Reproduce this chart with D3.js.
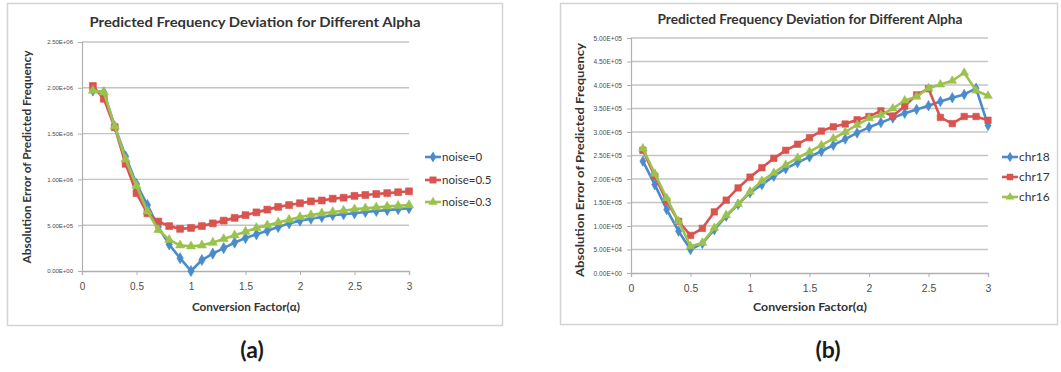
<!DOCTYPE html>
<html>
<head>
<meta charset="utf-8">
<script src="https://cdn.jsdelivr.net/npm/d3@7"></script>
<style>
  html, body { margin: 0; padding: 0; background: #fff; }
  svg { display: block; font-family: Lato, "Open Sans", sans-serif; }
</style>
</head>
<body>
<svg id="chart" width="1061" height="372"></svg>
<script>
// ---------- data ----------
const alpha = [0.1, 0.2, 0.3, 0.4, 0.5, 0.6, 0.7, 0.8, 0.9, 1.0,
               1.1, 1.2, 1.3, 1.4, 1.5, 1.6, 1.7, 1.8, 1.9, 2.0,
               2.1, 2.2, 2.3, 2.4, 2.5, 2.6, 2.7, 2.8, 2.9, 3.0];

// panel (a)
const noise0  = [1.97e6, 1.95e6, 1.58e6, 1.25e6, 0.95e6, 0.72e6, 0.48e6, 0.29e6, 0.14e6, 0.0,
                 0.12e6, 0.19e6, 0.25e6, 0.31e6, 0.36e6, 0.40e6, 0.44e6, 0.48e6, 0.52e6, 0.55e6,
                 0.57e6, 0.59e6, 0.61e6, 0.62e6, 0.63e6, 0.645e6, 0.655e6, 0.665e6, 0.675e6, 0.685e6];
const noise05 = [2.02e6, 1.88e6, 1.57e6, 1.17e6, 0.85e6, 0.63e6, 0.54e6, 0.49e6, 0.46e6, 0.47e6,
                 0.49e6, 0.52e6, 0.55e6, 0.58e6, 0.61e6, 0.64e6, 0.67e6, 0.70e6, 0.72e6, 0.74e6,
                 0.76e6, 0.77e6, 0.79e6, 0.80e6, 0.82e6, 0.83e6, 0.84e6, 0.85e6, 0.86e6, 0.87e6];
const noise03 = [1.97e6, 1.95e6, 1.58e6, 1.22e6, 0.93e6, 0.65e6, 0.45e6, 0.34e6, 0.28e6, 0.27e6,
                 0.28e6, 0.31e6, 0.35e6, 0.39e6, 0.43e6, 0.47e6, 0.50e6, 0.53e6, 0.56e6, 0.59e6,
                 0.61e6, 0.63e6, 0.645e6, 0.66e6, 0.675e6, 0.685e6, 0.695e6, 0.705e6, 0.712e6, 0.72e6];

// panel (b)
const chr18 = [2.38e5, 1.88e5, 1.35e5, 0.89e5, 0.50e5, 0.63e5, 0.92e5, 1.21e5, 1.46e5, 1.71e5,
               1.88e5, 2.06e5, 2.22e5, 2.35e5, 2.47e5, 2.59e5, 2.72e5, 2.85e5, 2.98e5, 3.10e5,
               3.20e5, 3.30e5, 3.40e5, 3.48e5, 3.56e5, 3.65e5, 3.73e5, 3.80e5, 3.93e5, 3.14e5];
const chr17 = [2.61e5, 2.06e5, 1.53e5, 1.10e5, 0.80e5, 0.95e5, 1.30e5, 1.55e5, 1.81e5, 2.04e5,
               2.24e5, 2.44e5, 2.61e5, 2.74e5, 2.88e5, 3.02e5, 3.11e5, 3.17e5, 3.26e5, 3.33e5,
               3.45e5, 3.34e5, 3.55e5, 3.79e5, 3.92e5, 3.31e5, 3.18e5, 3.33e5, 3.33e5, 3.25e5];
const chr16 = [2.65e5, 2.11e5, 1.59e5, 1.10e5, 0.57e5, 0.64e5, 0.96e5, 1.23e5, 1.47e5, 1.73e5,
               1.96e5, 2.13e5, 2.30e5, 2.45e5, 2.58e5, 2.72e5, 2.86e5, 3.00e5, 3.15e5, 3.29e5,
               3.36e5, 3.50e5, 3.67e5, 3.75e5, 3.93e5, 4.01e5, 4.09e5, 4.26e5, 3.88e5, 3.77e5];

const xTicks = [0, 0.5, 1, 1.5, 2, 2.5, 3];
const xTickLabels = ["0", "0.5", "1", "1.5", "2", "2.5", "3"];
const yTicksA = [0, 5e5, 1e6, 1.5e6, 2e6, 2.5e6];
const yTickLabelsA = ["0.00E+00", "5.00E+05", "1.00E+06", "1.50E+06", "2.00E+06", "2.50E+06"];
const yTicksB = [0, 5e4, 1e5, 1.5e5, 2e5, 2.5e5, 3e5, 3.5e5, 4e5, 4.5e5, 5e5];
const yTickLabelsB = ["0.00E+00", "5.00E+04", "1.00E+05", "1.50E+05", "2.00E+05", "2.50E+05",
                      "3.00E+05", "3.50E+05", "4.00E+05", "4.50E+05", "5.00E+05"];
const namesA = ["noise=0", "noise=0.5", "noise=0.3"];
const namesB = ["chr18", "chr17", "chr16"];

const chartTitle = "Predicted Frequency Deviation for Different Alpha";
const xTitle = "Conversion Factor(α)";
const yTitle = "Absolution Error of Predicted Frequency";

const colors = ["#4a8bcc", "#d9534f", "#9cc24e"];
const shapes = [d3.symbolDiamond, d3.symbolSquare, d3.symbolTriangle];

// ---------- drawing ----------
const svg = d3.select("#chart");
svg.append("rect").attr("width", 1061).attr("height", 372).attr("fill", "#fff");

function drawPanel(cfg) {
  const g = svg.append("g");
  g.append("rect")
    .attr("x", cfg.box[0] + 0.5).attr("y", cfg.box[1] + 0.5)
    .attr("width", cfg.box[2] - cfg.box[0]).attr("height", cfg.box[3] - cfg.box[1])
    .attr("fill", "#fff").attr("stroke", "#d4d4d4").attr("stroke-width", 1.5);

  const x = d3.scaleLinear().domain([0, 3]).range(cfg.xr);
  const y = d3.scaleLinear().domain([0, cfg.yMax]).range(cfg.yr);

  // gridlines
  g.append("g").selectAll("line").data(cfg.yTicks.slice(1)).join("line")
    .attr("x1", cfg.xr[0]).attr("x2", cfg.xr[1])
    .attr("y1", d => y(d)).attr("y2", d => y(d))
    .attr("stroke", "#c4c4c4").attr("stroke-width", 1.4);

  // y axis
  const yAxis = d3.axisLeft(y).tickValues(cfg.yTicks)
    .tickFormat((d, i) => cfg.yLabels[i]).tickSize(4).tickPadding(cfg.yPad);
  const ya = g.append("g").attr("transform", `translate(${cfg.xr[0]},0)`).call(yAxis);
  ya.select(".domain").attr("stroke", "#b0b0b0").attr("stroke-width", 1.2);
  ya.selectAll(".tick line").attr("stroke", "#b0b0b0");
  ya.selectAll("text").attr("fill", "#4d4d4d").attr("font-size", cfg.yFont);

  // x axis
  const xAxis = d3.axisBottom(x).tickValues(xTicks)
    .tickFormat((d, i) => xTickLabels[i]).tickSize(4).tickPadding(8);
  const xa = g.append("g").attr("transform", `translate(0,${cfg.yr[0]})`).call(xAxis);
  xa.select(".domain").attr("stroke", "#b0b0b0").attr("stroke-width", 1.3);
  xa.selectAll(".tick line").attr("stroke", "#b0b0b0");
  xa.selectAll("text").attr("fill", "#4d4d4d").attr("font-size", cfg.xFont);

  // series
  const line = d3.line().x((d, i) => x(alpha[i])).y(d => y(d));
  cfg.series.forEach((s, k) => {
    g.append("path").datum(s).attr("d", line)
      .attr("fill", "none").attr("stroke", colors[k]).attr("stroke-width", 2.6)
      .attr("stroke-linejoin", "round");
    g.append("g").selectAll("path").data(s).join("path")
      .attr("transform", (d, i) => `translate(${x(alpha[i])},${y(d)})`)
      .attr("d", d3.symbol().type(shapes[k]).size(cfg.markerSizes[k]))
      .attr("fill", colors[k]).attr("stroke", colors[k]).attr("stroke-width", 0.6);
  });

  // titles
  g.append("text").attr("x", cfg.titleX).attr("y", cfg.titleY)
    .attr("text-anchor", "middle").attr("font-weight", "bold").attr("font-size", cfg.titleFont)
    .attr("textLength", cfg.titleLen).attr("lengthAdjust", "spacingAndGlyphs")
    .attr("fill", "#333").text(chartTitle);
  g.append("text").attr("x", cfg.xTitleX).attr("y", cfg.xTitleY)
    .attr("text-anchor", "middle").attr("font-weight", "bold").attr("font-size", cfg.axTitleFont)
    .attr("textLength", cfg.xTitleLen).attr("lengthAdjust", "spacingAndGlyphs")
    .attr("fill", "#333").text(xTitle);
  g.append("text")
    .attr("transform", `translate(${cfg.yTitleX},${cfg.yTitleY}) rotate(-90)`)
    .attr("text-anchor", "middle").attr("font-weight", "bold").attr("font-size", cfg.axTitleFont)
    .attr("textLength", cfg.yTitleLen).attr("lengthAdjust", "spacingAndGlyphs")
    .attr("fill", "#333").text(yTitle);

  // legend
  cfg.names.forEach((n, k) => {
    const ly = cfg.legendY[k];
    g.append("line").attr("x1", cfg.legendX).attr("x2", cfg.legendX + 16)
      .attr("y1", ly).attr("y2", ly).attr("stroke", colors[k]).attr("stroke-width", 2.6);
    g.append("path").attr("transform", `translate(${cfg.legendX + 8},${ly})`)
      .attr("d", d3.symbol().type(shapes[k]).size(cfg.markerSizes[k]))
      .attr("fill", colors[k]);
    g.append("text").attr("x", cfg.legendX + 17).attr("y", ly).attr("dy", "0.35em")
      .attr("font-size", cfg.legendFont).attr("fill", "#333").text(n);
  });

  // caption
  svg.append("text").attr("x", cfg.capX).attr("y", 358)
    .attr("text-anchor", "middle").attr("font-weight", "bold").attr("font-size", 23)
    .attr("fill", "#1a1a1a").text(cfg.caption);
}

drawPanel({
  box: [7, 3, 502, 325], xr: [82, 409], yr: [271, 42], yMax: 2.5e6,
  yTicks: yTicksA, yLabels: yTickLabelsA, yFont: 6, yPad: 5, xFont: 10,
  series: [noise0, noise05, noise03], names: namesA, markerSizes: [36, 48, 36],
  titleX: 255, titleY: 27, titleFont: 14, titleLen: 331,
  xTitleX: 246, xTitleY: 311, xTitleLen: 108, yTitleX: 31, yTitleY: 157, yTitleLen: 213,
  axTitleFont: 11, legendX: 425, legendY: [157, 180, 202], legendFont: 11.5,
  caption: "(a)", capX: 252
});
drawPanel({
  box: [560, 3, 1057, 324], xr: [631, 988], yr: [273, 38], yMax: 5e5,
  yTicks: yTicksB, yLabels: yTickLabelsB, yFont: 6.6, yPad: 5, xFont: 10.5,
  series: [chr18, chr17, chr16], names: namesB, markerSizes: [32, 42, 32],
  titleX: 810, titleY: 24, titleFont: 13.5, titleLen: 305,
  xTitleX: 810, xTitleY: 311, xTitleLen: 114, yTitleX: 584, yTitleY: 160, yTitleLen: 234,
  axTitleFont: 11.5, legendX: 1002, legendY: [157, 177, 197], legendFont: 12,
  caption: "(b)", capX: 828
});
</script>
</body>
</html>
